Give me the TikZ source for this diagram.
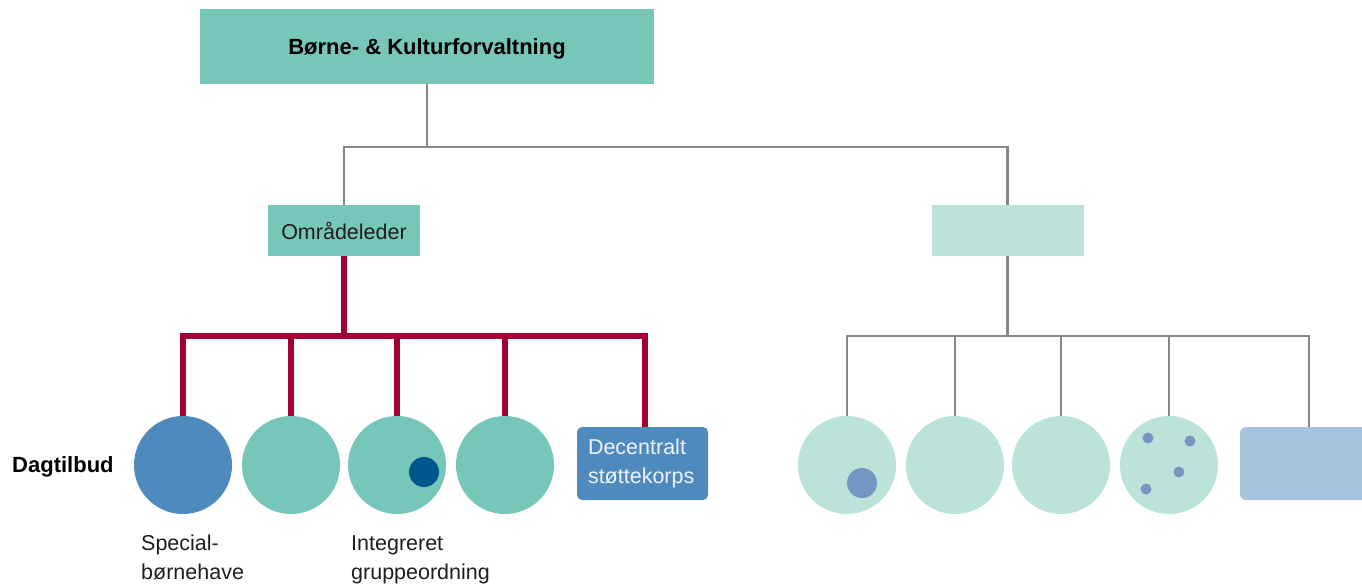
\documentclass[tikz,border=0pt]{standalone}
\usepackage{fontspec}
\setmainfont{Liberation Sans}
\usetikzlibrary{positioning, calc}
\usepackage{xcolor}

\definecolor{teal1}{HTML}{76C7B9}
\definecolor{teal2}{HTML}{BBE3DA}
\definecolor{blue1}{HTML}{4F8ABE}
\definecolor{blue2}{HTML}{A6C4DE}
\definecolor{navy}{HTML}{00578F}
\definecolor{dotblue}{HTML}{7596C3}
\definecolor{wine}{HTML}{A50034}
\definecolor{linegray}{HTML}{878787}
\definecolor{ink}{HTML}{1E1E1E}

\begin{document}
\begin{tikzpicture}[x=1pt, y=-1pt,
    every node/.style={inner sep=0pt, font=\fontsize{21.5}{29}\selectfont, text=ink},
    boxnode/.style={rectangle, minimum height=51pt, minimum width=152pt},
    unit/.style={circle, minimum size=98pt},
    grayline/.style={draw=linegray, line width=2.6pt},
    redline/.style={draw=wine, line width=6pt, line join=miter},
    dot/.style={circle, fill=#1}]
    \useasboundingbox (0,0) rectangle (1362,587);

    % Top level
    \node[rectangle, fill=teal1, minimum width=454pt, minimum height=75pt, text depth=0pt,
          font=\fontsize{22}{26}\selectfont\bfseries, text=black] (bkf) at (427,46.5) {Børne- \& Kulturforvaltning};

    % Second level
    \node[boxnode, fill=teal1] (omr) at (344,230.5) {Områdeleder};
    \node[boxnode, fill=teal2] (omr2) at (1007.5,230.5) {};

    \coordinate (gbus) at (427,147);
    \draw[grayline] (bkf.south) -- (gbus);
    \draw[grayline] (gbus) -| (omr.north);
    \draw[grayline] (gbus) -| (omr2.north);

    % Dagtilbud, left group
    \node[anchor=base west, font=\fontsize{22}{26}\selectfont\bfseries, text=black] (dag) at (12,472) {Dagtilbud};

    \node[unit, fill=blue1] (c1) at (183,465) {};
    \node[unit, fill=teal1] (c2) at (291,465) {};
    \node[unit, fill=teal1] (c3) at (397,465) {};
    \node[unit, fill=teal1] (c4) at (505,465) {};
    \node[dot=navy, minimum size=30pt] (c3dot) at (424,472) {};
    \node[rectangle, rounded corners=5pt, fill=blue1, minimum width=131pt, minimum height=73pt,
          text width=109pt, align=left, text=white!90!blue1] (dsk) at (642.5,463.5) {Decentralt\\støttekorps};

    \coordinate (rbus) at (344,336);
    \draw[redline] (omr.south) -- (rbus);
    \foreach \n in {c1,c2,c3,c4}
        \draw[redline] (rbus) -| (\n.north);
    \draw[redline] (rbus) -| ([xshift=2.5pt]dsk.north);

    \node[anchor=north west, align=left] (lbl1) at (141,535) {Special-\\børnehave};
    \node[anchor=north west, align=left] (lbl3) at (351,535) {Integreret\\gruppeordning};

    % Right group
    \node[unit, fill=teal2] (r1) at (847,465) {};
    \node[unit, fill=teal2] (r2) at (955,465) {};
    \node[unit, fill=teal2] (r3) at (1061,465) {};
    \node[unit, fill=teal2] (r4) at (1169,465) {};
    \node[dot=dotblue, minimum size=30pt] (r1dot) at (862,483) {};
    \node[dot=dotblue, minimum size=11pt] (r4a) at (1148,438) {};
    \node[dot=dotblue, minimum size=11pt] (r4b) at (1190,441) {};
    \node[dot=dotblue, minimum size=11pt] (r4c) at (1179,472) {};
    \node[dot=dotblue, minimum size=11pt] (r4d) at (1146,489) {};
    \node[rectangle, rounded corners=6pt, fill=blue2, minimum width=140pt, minimum height=73pt] (rbox) at (1310,463.5) {};

    \coordinate (gbus2) at (1007.5,336);
    \draw[grayline] (omr2.south) -- (gbus2);
    \foreach \n in {r1,r2,r3,r4}
        \draw[grayline] (gbus2) -| (\n.north);
    \draw[grayline] (gbus2) -| ([xshift=-1pt]rbox.north);
\end{tikzpicture}
\end{document}
